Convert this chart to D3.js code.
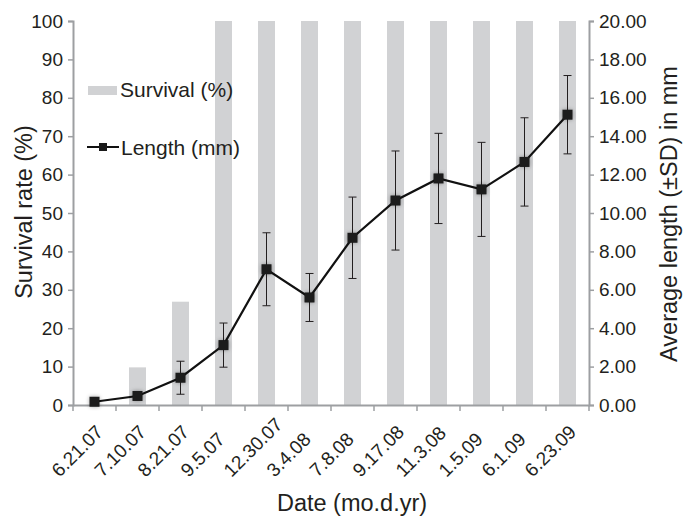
<!DOCTYPE html>
<html lang="en">
  <head>
    <title>Survival and Length</title>
    <style>
      body { margin: 0; padding: 0; background: #fff; }
      #chart { width: 692px; height: 518px; }
      text { font-family: 'Liberation Sans', Arial, sans-serif; fill: #231f20; }
    </style>
  </head>
  <body>
    <div id="chart"></div>
    <script src="https://cdnjs.cloudflare.com/ajax/libs/d3/7.8.5/d3.min.js"></script>
    <script>

    var dates = ['6.21.07', '7.10.07', '8.21.07', '9.5.07', '12.30.07', '3.4.08',
                 '7.8.08', '9.17.08', '11.3.08', '1.5.09', '6.1.09', '6.23.09'];
    var survival = [0, 9.8, 26.9, 100, 100, 100, 100, 100, 100, 100, 100, 100];
    var lengthMean = [0.17, 0.47, 1.42, 3.12, 7.07, 5.6, 8.71, 10.65, 11.8, 11.23, 12.66, 15.12];
    var lengthSD = [0, 0, 0.86, 1.15, 1.9, 1.25, 2.12, 2.58, 2.35, 2.45, 2.3, 2.04];
    var leftTicks = [0, 10, 20, 30, 40, 50, 60, 70, 80, 90, 100];
    var rightTicks = [0, 2, 4, 6, 8, 10, 12, 14, 16, 18, 20];

    var drawChart = function() {
      var width = 692, height = 518;
      var left = 73, right = 589, top = 21, bottom = 405;
      var axisColor = '#9d9fa2';
      var font = "'Liberation Sans', Arial, sans-serif";

      var svg = d3.select('#chart').append('svg')
        .attr('width', width)
        .attr('height', height);

      // soft halo behind the markers
      var defs = svg.append('defs');
      var f = defs.append('filter').attr('id', 'halo')
        .attr('x', '-100%').attr('y', '-100%').attr('width', '300%').attr('height', '300%');
      f.append('feGaussianBlur').attr('in', 'SourceAlpha').attr('stdDeviation', 2).attr('result', 'b');
      f.append('feComponentTransfer').attr('in', 'b').attr('result', 'c')
        .append('feFuncA').attr('type', 'linear').attr('slope', 0.35);
      var fm = f.append('feMerge');
      fm.append('feMergeNode').attr('in', 'c');
      fm.append('feMergeNode').attr('in', 'SourceGraphic');

      var x = d3.scaleBand().domain(dates).range([left, right]).padding(0);
      var yL = d3.scaleLinear().domain([0, 100]).range([bottom, top]);
      var yR = d3.scaleLinear().domain([0, 20]).range([bottom, top]);
      var cx = function(i) { return x(dates[i]) + x.bandwidth() / 2; };

      // bars
      var barW = 17;
      svg.selectAll('rect.bar')
        .data(survival)
        .enter().append('rect')
        .attr('class', 'bar')
        .attr('x', function(d, i) { return cx(i) - barW / 2; })
        .attr('y', function(d) { return yL(d); })
        .attr('width', barW)
        .attr('height', function(d) { return bottom - yL(d); })
        .style('fill', '#d1d2d4');

      // axes
      var axL = svg.append('g')
        .attr('transform', 'translate(' + left + ',0)')
        .call(d3.axisLeft(yL).tickValues(leftTicks).tickSize(5).tickPadding(5));
      var axR = svg.append('g')
        .attr('transform', 'translate(' + right + ',0)')
        .call(d3.axisRight(yR).tickValues(rightTicks).tickSize(5).tickPadding(5)
          .tickFormat(d3.format('.2f')));
      var axB = svg.append('g')
        .attr('transform', 'translate(0,' + bottom + ')')
        .call(d3.axisBottom(x).tickSize(0).tickFormat(''));

      // x ticks on band boundaries
      axB.selectAll('line.bound')
        .data(d3.range(dates.length + 1))
        .enter().append('line')
        .attr('class', 'bound')
        .attr('x1', function(i) { return left + i * x.bandwidth(); })
        .attr('x2', function(i) { return left + i * x.bandwidth(); })
        .attr('y1', 0).attr('y2', 6);

      [axL, axR, axB].forEach(function(a) {
        a.select('.domain').attr('stroke', axisColor).attr('stroke-width', 2);
        a.selectAll('line').attr('stroke', axisColor).attr('stroke-width', 1.5);
        a.selectAll('text').style('font-size', '19px').attr('fill', '#231f20')
          .style('font-family', font);
      });

      // x labels rotated, anchored at their start
      svg.selectAll('text.xlab')
        .data(dates)
        .enter().append('text')
        .attr('class', 'xlab')
        .attr('text-anchor', 'start')
        .style('font-size', '19px')
        .attr('transform', function(d, i) {
          return 'translate(' + (cx(i) - 35) + ',478) rotate(-45)';
        })
        .text(function(d) { return d; });

      // error bars
      var err = svg.append('g');
      lengthMean.forEach(function(m, i) {
        if (lengthSD[i] <= 0) return;
        err.append('line')
          .attr('x1', cx(i)).attr('x2', cx(i))
          .attr('y1', yR(m - lengthSD[i])).attr('y2', yR(m + lengthSD[i]))
          .attr('stroke', '#231f20').attr('stroke-width', 1);
        [m - lengthSD[i], m + lengthSD[i]].forEach(function(v) {
          err.append('line')
            .attr('x1', cx(i) - 4).attr('x2', cx(i) + 4)
            .attr('y1', yR(v)).attr('y2', yR(v))
            .attr('stroke', '#231f20').attr('stroke-width', 1);
        });
      });

      // line
      var line = d3.line()
        .x(function(d, i) { return cx(i); })
        .y(function(d) { return yR(d); });
      svg.append('path')
        .datum(lengthMean)
        .attr('d', line)
        .attr('fill', 'none')
        .attr('stroke', '#111')
        .attr('stroke-width', 2.2);

      svg.selectAll('rect.mark')
        .data(lengthMean)
        .enter().append('rect')
        .attr('class', 'mark')
        .attr('x', function(d, i) { return cx(i) - 5; })
        .attr('y', function(d) { return yR(d) - 5; })
        .attr('width', 10).attr('height', 10)
        .attr('filter', 'url(#halo)')
        .style('fill', '#1a1a1a');

      // legend
      svg.append('rect')
        .attr('x', 88).attr('y', 86).attr('width', 29).attr('height', 9)
        .style('fill', '#d1d2d4');
      svg.append('text').attr('x', 120).attr('y', 97)
        .style('font-size', '21px').text('Survival (%)');
      svg.append('line')
        .attr('x1', 87).attr('x2', 119).attr('y1', 147).attr('y2', 147)
        .attr('stroke', '#111').attr('stroke-width', 2);
      svg.append('rect')
        .attr('x', 99).attr('y', 143).attr('width', 8).attr('height', 8)
        .style('fill', '#1a1a1a');
      svg.append('text').attr('x', 121).attr('y', 154.5)
        .style('font-size', '21px').text('Length (mm)');

      // titles
      svg.append('text')
        .attr('text-anchor', 'middle')
        .attr('transform', 'translate(32,212) rotate(-90)')
        .style('font-size', '23.5px')
        .text('Survival rate (%)');
      svg.append('text')
        .attr('text-anchor', 'middle')
        .attr('transform', 'translate(677,214) rotate(-90)')
        .style('font-size', '23.5px')
        .text('Average length (±SD) in mm');
      svg.append('text')
        .attr('text-anchor', 'middle')
        .attr('x', 352).attr('y', 511)
        .style('font-size', '23.5px')
        .text('Date (mo.d.yr)');
    };

    drawChart();

    </script>
  </body>
</html>
